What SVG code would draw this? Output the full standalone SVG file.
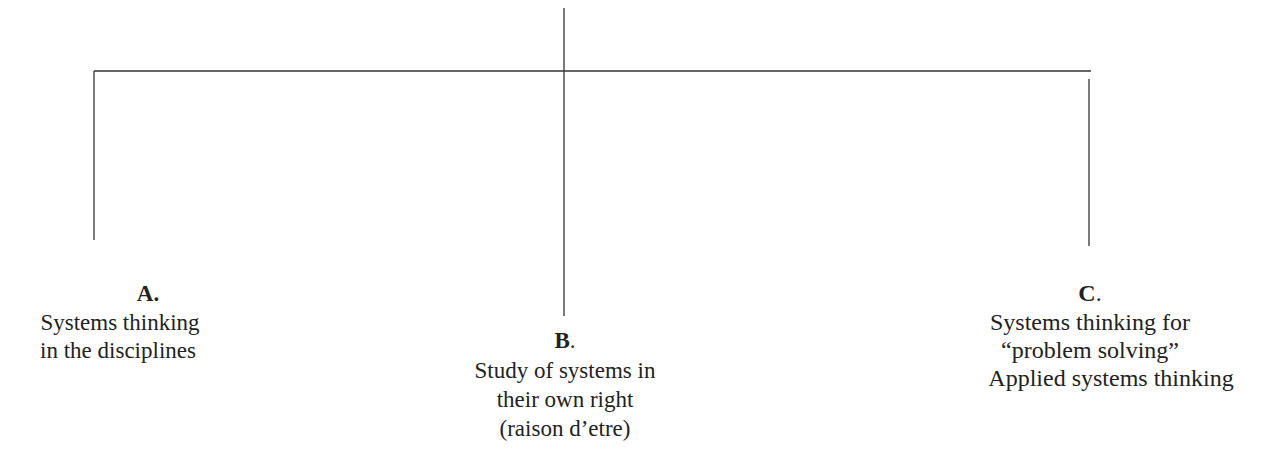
<svg xmlns="http://www.w3.org/2000/svg" width="1269" height="476" viewBox="0 0 1269 476">
<style>
.ln{stroke:#333;stroke-width:1.3;fill:none}
.t{font-family:"Liberation Serif",serif;font-size:23px;fill:#222;text-anchor:middle}
.c{font-size:24px}
.b{font-weight:bold}
</style>
<rect width="1269" height="476" fill="#fff"/>
<g id="connectors">
<line class="ln" x1="564" y1="8" x2="564" y2="316"/>
<line class="ln" x1="94" y1="71" x2="1091" y2="71"/>
<line class="ln" x1="94" y1="71" x2="94" y2="240"/>
<line class="ln" x1="1089" y1="79" x2="1089" y2="246"/>
</g>
<g id="nodeA">
<text class="t" x="148" y="301"><tspan class="b">A.</tspan></text>
<text class="t" x="120" y="330">Systems thinking</text>
<text class="t" x="118" y="358">in the disciplines</text>
</g>
<g id="nodeB">
<text class="t" x="565" y="348"><tspan class="b">B</tspan>.</text>
<text class="t" x="565" y="378">Study of systems in</text>
<text class="t" x="565" y="407">their own right</text>
<text class="t" x="565" y="436">(raison d’etre)</text>
</g>
<g id="nodeC">
<text class="t c" x="1090" y="301"><tspan class="b">C</tspan>.</text>
<text class="t c" x="1090" y="330">Systems thinking for</text>
<text class="t c" x="1090" y="358">“problem solving”</text>
<text class="t c" x="1111" y="386">Applied systems thinking</text>
</g>
</svg>
